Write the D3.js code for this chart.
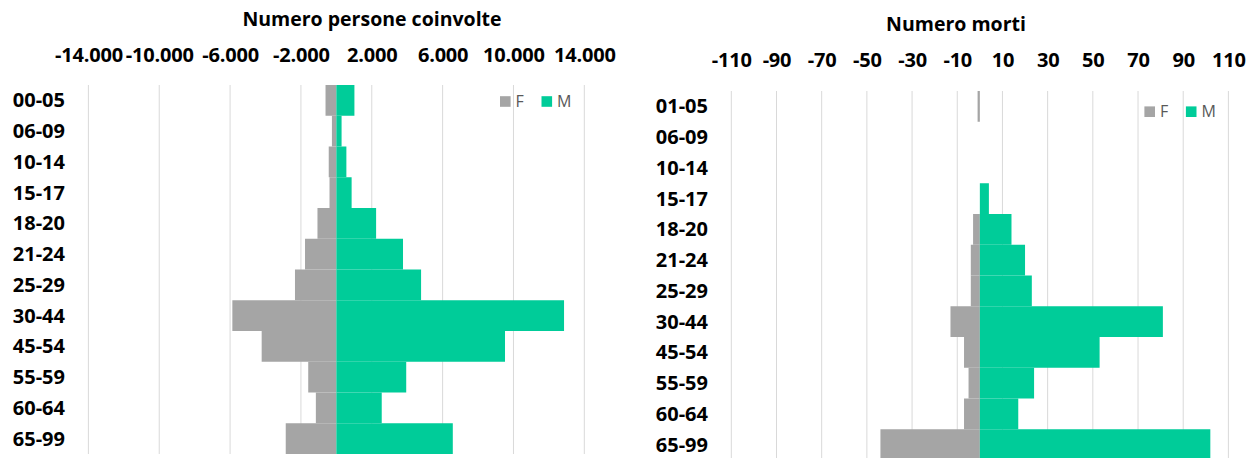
<!DOCTYPE html>
<html>
<head>
<meta charset="utf-8">
<script src="https://cdn.jsdelivr.net/npm/d3@7"></script>
<style>
  body { margin: 0; background: #fff; }
  text { font-family: "Open Sans", Lato, sans-serif; }
</style>
</head>
<body>
<svg id="chart" width="1248" height="458"></svg>
<script>
const ageLeft = ["00-05", "06-09", "10-14", "15-17", "18-20", "21-24", "25-29", "30-44", "45-54", "55-59", "60-64", "65-99"];
const ageRight = ["01-05", "06-09", "10-14", "15-17", "18-20", "21-24", "25-29", "30-44", "45-54", "55-59", "60-64", "65-99"];
const coinvolteF = [611, 250, 430, 386, 1066, 1769, 2336, 5872, 4217, 1588, 1157, 2858];
const coinvolteM = [1020, 295, 566, 862, 2245, 3764, 4784, 12856, 9523, 3945, 2562, 6575];
const mortiF = [1, 0, 0, 0, 3, 4, 4, 13, 7, 5, 7, 44];
const mortiM = [0, 0, 0, 4, 14, 20, 23, 81, 53, 24, 17, 102];
const ticksLeft = [-14000, -10000, -6000, -2000, 2000, 6000, 10000, 14000];
const ticksRight = [-110, -90, -70, -50, -30, -10, 10, 30, 50, 70, 90, 110];
const seriesNames = ["F", "M"];
const colors = ["#a5a5a5", "#00cc99"];

const it = d3.formatLocale({ decimal: ",", thousands: ".", grouping: [3], currency: ["", "€"], minus: "-" });

const svg = d3.select("#chart");

function pyramid(opt) {
  const g = svg.append("g");

  const x = d3.scaleLinear().domain(opt.domain).range(opt.xRange);
  const y = d3.scaleBand().domain(opt.cats).range(opt.yRange).padding(0);

  // gridlines
  g.append("g")
    .selectAll("line")
    .data(opt.ticks)
    .enter()
    .append("line")
    .attr("x1", (d) => x(d))
    .attr("x2", (d) => x(d))
    .attr("y1", opt.yRange[0])
    .attr("y2", opt.yRange[1])
    .attr("stroke", "#d9d9d9")
    .attr("stroke-width", 1);

  // top axis labels
  const axis = g
    .append("g")
    .attr("transform", `translate(0, ${opt.tickY})`)
    .call(d3.axisTop(x).tickValues(opt.ticks).tickSize(0).tickFormat(opt.fmt));
  axis.select(".domain").remove();
  axis
    .selectAll("text")
    .attr("font-family", "'Open Sans', sans-serif")
    .attr("font-size", 20)
    .attr("font-weight", "bold")
    .attr("letter-spacing", -0.2)
    .attr("fill", "#000")
    .attr("dy", "0.35em")
    .attr("y", 0);

  // bars F (left, negative) and M (right)
  const rows = opt.cats.map((c, i) => ({ cat: c, f: opt.f[i], m: opt.m[i] }));
  g.append("g")
    .selectAll("rect")
    .data(rows)
    .enter()
    .append("rect")
    .attr("x", (d) => x(-d.f))
    .attr("y", (d) => y(d.cat))
    .attr("width", (d) => x(0) - x(-d.f))
    .attr("height", y.bandwidth())
    .attr("fill", colors[0]);
  g.append("g")
    .selectAll("rect")
    .data(rows)
    .enter()
    .append("rect")
    .attr("x", x(0))
    .attr("y", (d) => y(d.cat))
    .attr("width", (d) => x(d.m) - x(0))
    .attr("height", y.bandwidth())
    .attr("fill", colors[1]);

  // category labels
  g.append("g")
    .selectAll("text")
    .data(opt.cats)
    .enter()
    .append("text")
    .attr("x", opt.labelX)
    .attr("y", (d) => y(d) + y.bandwidth() / 2)
    .attr("dy", "0.35em")
    .attr("text-anchor", "end")
    .attr("font-size", 20)
    .attr("font-weight", "bold")
    .attr("fill", "#000")
    .text((d) => d);

  // title
  g.append("text")
    .attr("x", opt.titleX)
    .attr("y", opt.titleY)
    .attr("dy", "0.35em")
    .attr("text-anchor", "middle")
    .attr("font-size", 19.5)
    .attr("font-weight", "bold")
    .attr("fill", "#000")
    .text(opt.title);

  // legend
  const leg = g.append("g").attr("transform", `translate(${opt.legend[0]}, ${opt.legend[1]})`);
  seriesNames.forEach((s, i) => {
    leg.append("rect")
      .attr("x", i * 41.5)
      .attr("y", -5.3)
      .attr("width", 10.6)
      .attr("height", 10.6)
      .attr("fill", colors[i]);
    leg.append("text")
      .attr("x", i * 41.5 + 15.5)
      .attr("y", 0)
      .attr("dy", "0.35em")
      .attr("font-size", 16)
      .attr("fill", "#595959")
      .text(s);
  });
}

pyramid({
  title: "Numero persone coinvolte",
  titleX: 372, titleY: 19,
  cats: ageLeft, f: coinvolteF, m: coinvolteM,
  domain: [-14000, 14000], xRange: [88.4, 584.3], yRange: [85, 454],
  ticks: ticksLeft, tickY: 55, fmt: it.format(",.0f"),
  labelX: 65, legend: [500, 101.5]
});

pyramid({
  title: "Numero morti",
  titleX: 956, titleY: 24,
  cats: ageRight, f: mortiF, m: mortiM,
  domain: [-110, 110], xRange: [731.3, 1228.4], yRange: [91, 460],
  ticks: ticksRight, tickY: 60, fmt: it.format(",.0f"),
  labelX: 708, legend: [1144.4, 111.7]
});
</script>
</body>
</html>
